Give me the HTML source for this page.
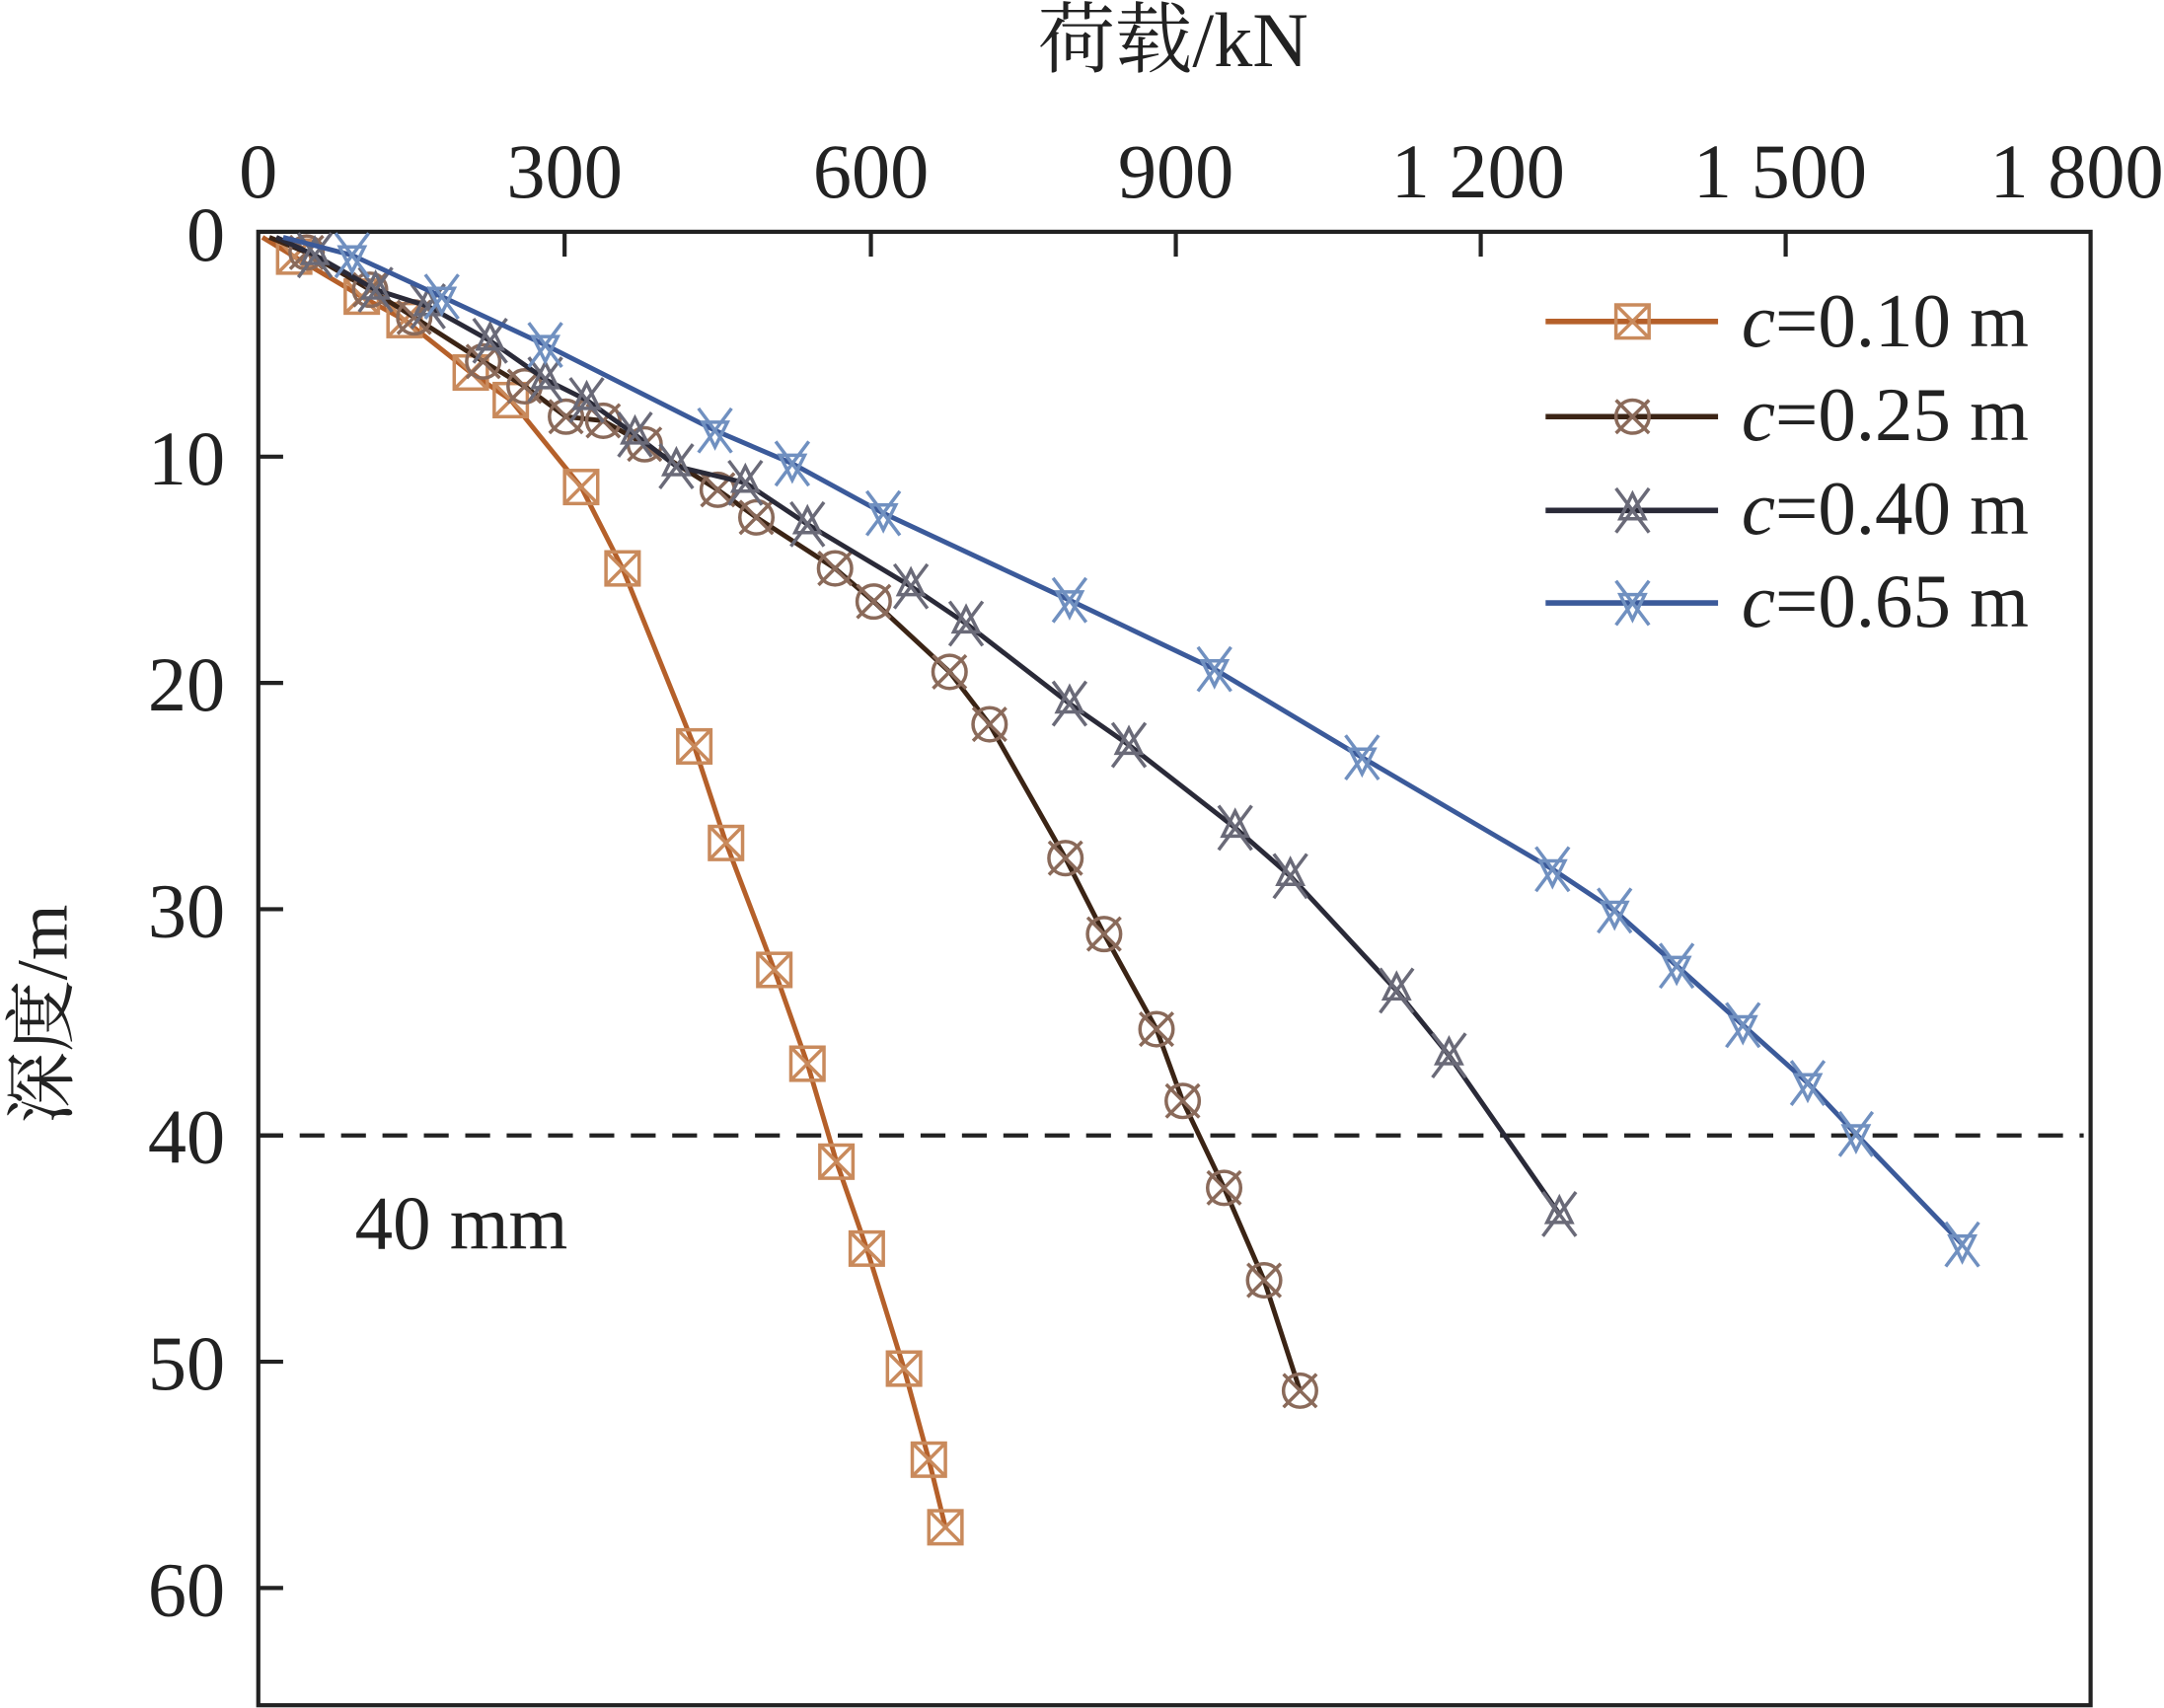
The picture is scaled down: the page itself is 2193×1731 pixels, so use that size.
<!DOCTYPE html>
<html><head><meta charset="utf-8"><style>
html,body{margin:0;padding:0;background:#fff}
svg{display:block}
text{font-family:"Liberation Serif","Noto Serif CJK SC",serif;fill:#222}
</style></head><body>
<svg id="s" width="2193" height="1731" viewBox="0 0 1568 1238" xmlns="http://www.w3.org/2000/svg">
<rect x="187" y="168" width="1328" height="1068" fill="none" stroke="#222" stroke-width="3"/>
<g stroke="#222" stroke-width="3">
<line x1="409" y1="168" x2="409" y2="186"/><line x1="631" y1="168" x2="631" y2="186"/>
<line x1="852" y1="168" x2="852" y2="186"/><line x1="1073" y1="168" x2="1073" y2="186"/>
<line x1="1294" y1="168" x2="1294" y2="186"/>
<line x1="187" y1="331" x2="205" y2="331"/><line x1="187" y1="495" x2="205" y2="495"/>
<line x1="187" y1="659" x2="205" y2="659"/><line x1="187" y1="823" x2="205" y2="823"/>
<line x1="187" y1="987" x2="205" y2="987"/><line x1="187" y1="1151" x2="205" y2="1151"/>
</g>
<g font-size="56" text-anchor="middle">
<text x="187" y="143">0</text><text x="409" y="143">300</text><text x="631" y="143">600</text>
<text x="852" y="143">900</text><text x="1071" y="143">1 200</text><text x="1290" y="143">1 500</text><text x="1505" y="143">1 800</text>
<text x="850" y="48">荷载/kN</text>
</g>
<g font-size="56" text-anchor="end">
<text x="163" y="189">0</text><text x="163" y="351">10</text><text x="163" y="515">20</text>
<text x="163" y="679">30</text><text x="163" y="843">40</text><text x="163" y="1007">50</text><text x="163" y="1171">60</text>
</g>
<text x="0" y="0" font-size="52" text-anchor="middle" transform="translate(48,735) rotate(-90)">深度/m</text>
<line x1="187" y1="823" x2="1510" y2="823" stroke="#222" stroke-width="3" stroke-dasharray="18,12"/>
<text x="257" y="905" font-size="55">40 mm</text>
<g id="series"></g>
<g font-size="55">
<text x="1262" y="251"><tspan font-style="italic">c</tspan>=0.10 m</text>
<text x="1262" y="319"><tspan font-style="italic">c</tspan>=0.25 m</text>
<text x="1262" y="387"><tspan font-style="italic">c</tspan>=0.40 m</text>
<text x="1262" y="454"><tspan font-style="italic">c</tspan>=0.65 m</text>
</g>
</svg>
<script>
var S=[
{c:"#b5602a",m:"#c98a5c",t:0,p:[[190,172],[213,186],[262,215],[293,232],[341,270],[370,290],[421,353],[451,412],[503,541],[526,611],[561,703],[585,771],[606,842],[628,905],[655,992],[673,1058],[685,1107]],ly:233},
{c:"#3b2415",m:"#8a6a5a",t:1,p:[[195,172],[222,183],[268,210],[300,230],[350,262],[380,280],[410,302],[437,305],[467,322],[520,355],[548,375],[605,412],[633,436],[688,487],[717,525],[772,622],[800,677],[838,746],[857,798],[887,861],[916,928],[942,1008]],ly:302},
{c:"#2a2a38",m:"#6a6a78",t:2,p:[[200,172],[228,185],[272,210],[310,222],[355,247],[395,275],[425,290],[460,315],[490,338],[540,350],[585,380],[660,425],[700,452],[775,510],[818,540],[895,600],[935,635],[1012,718],[1050,765],[1130,880]],ly:370},
{c:"#3b5a9a",m:"#7090c0",t:3,p:[[205,172],[255,185],[320,215],[395,250],[518,312],[574,336],[640,372],[775,435],[880,485],[987,549],[1125,630],[1170,660],[1215,700],[1263,743],[1310,785],[1345,822],[1422,902]],ly:437}];
var g=document.getElementById("series"),h="";
function mk(t,x,y,col){var r=12,s='fill="none" stroke="'+col+'" stroke-width="2.5"';
 if(t==0)return '<rect x="'+(x-r)+'" y="'+(y-r)+'" width="'+2*r+'" height="'+2*r+'" '+s+'/><path d="M'+(x-r)+' '+(y-r)+'L'+(x+r)+' '+(y+r)+'M'+(x+r)+' '+(y-r)+'L'+(x-r)+' '+(y+r)+'" '+s+'/>';
 if(t==1)return '<circle cx="'+x+'" cy="'+y+'" r="'+r+'" '+s+'/><path d="M'+(x-r)+' '+(y-r)+'L'+(x+r)+' '+(y+r)+'M'+(x+r)+' '+(y-r)+'L'+(x-r)+' '+(y+r)+'" '+s+'/>';
 if(t==2)return '<path d="M'+(x-r)+' '+(y-16)+'L'+(x+r)+' '+(y+16)+'M'+(x+r)+' '+(y-16)+'L'+(x-r)+' '+(y+16)+'M'+x+' '+(y-12)+'L'+(x+9)+' '+(y+6)+'L'+(x-9)+' '+(y+6)+'Z" '+s+'/>';
 return '<path d="M'+(x-r)+' '+(y-16)+'L'+(x+r)+' '+(y+16)+'M'+(x+r)+' '+(y-16)+'L'+(x-r)+' '+(y+16)+'M'+x+' '+(y+12)+'L'+(x+9)+' '+(y-6)+'L'+(x-9)+' '+(y-6)+'Z" '+s+'/>';}
S.forEach(function(s){
 h+='<polyline points="'+s.p.map(function(q){return q.join(",")}).join(" ")+'" fill="none" stroke="'+s.c+'" stroke-width="3.5" stroke-linejoin="round"/>';
 s.p.forEach(function(q,i){if(i>0)h+=mk(s.t,q[0],q[1],s.m);});
 h+='<line x1="1120" y1="'+s.ly+'" x2="1245" y2="'+s.ly+'" stroke="'+s.c+'" stroke-width="4"/>'+mk(s.t,1183,s.ly,s.m);
});
g.innerHTML=h;
</script>
</body></html>
